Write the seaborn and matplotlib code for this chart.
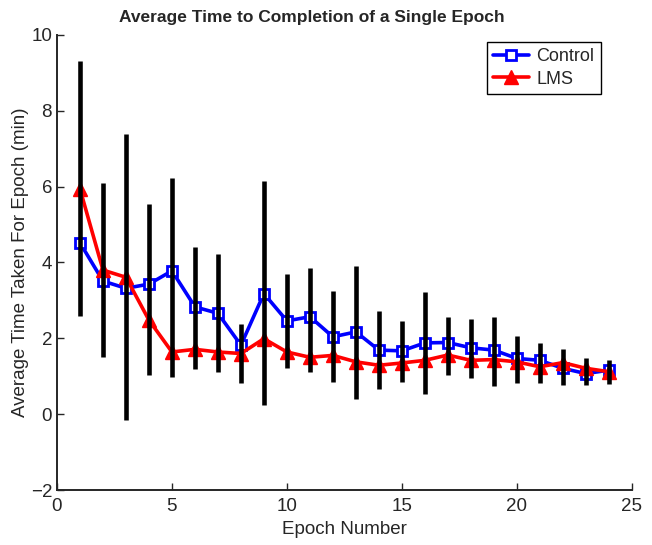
import numpy as np
import pandas as pd
import matplotlib
matplotlib.use("Agg")
import matplotlib.pyplot as plt
import seaborn as sns

# values
epochs = list(range(1, 25))
control = [4.52, 3.51, 3.32, 3.43, 3.78, 2.83, 2.66, 1.82, 3.18, 2.46, 2.57, 2.04,
           2.17, 1.69, 1.67, 1.88, 1.89, 1.75, 1.69, 1.47, 1.42, 1.21, 1.07, 1.16]
lms = [5.94, 3.80, 3.61, 2.48, 1.64, 1.71, 1.64, 1.60, 1.99, 1.64, 1.50, 1.55,
       1.38, 1.29, 1.35, 1.42, 1.56, 1.42, 1.44, 1.38, 1.25, 1.36, 1.21, 1.12]
err_low = [2.59, 1.50, -0.15, 1.03, 0.97, 1.18, 1.12, 0.83, 0.24, 1.21, 1.10, 0.84,
           0.40, 0.66, 0.84, 0.52, 1.03, 0.96, 0.74, 0.81, 0.83, 0.77, 0.77, 0.79]
err_high = [9.32, 6.10, 7.39, 5.54, 6.22, 4.40, 4.22, 2.39, 6.15, 3.69, 3.86, 3.25,
            3.91, 2.72, 2.46, 3.23, 2.57, 2.51, 2.57, 2.06, 1.88, 1.73, 1.47, 1.42]

sns.set_style("ticks")
plt.rcParams['font.family'] = ['Liberation Sans', 'DejaVu Sans']
plt.rcParams['xtick.direction'] = 'in'
plt.rcParams['ytick.direction'] = 'in'

df = pd.DataFrame({'Epoch': epochs, 'Control': control, 'LMS': lms})

fig = plt.figure(figsize=(6.52, 5.45), dpi=100)
ax = fig.add_axes([0.0874, 0.1009, 0.8816, 0.8349])

sns.lineplot(data=df, x='Epoch', y='Control', color='#0000ff', marker='s',
             markersize=7.5, markerfacecolor='white', markeredgecolor='#0000ff',
             markeredgewidth=2.0, linewidth=2.6, label='Control', ax=ax)
sns.lineplot(data=df, x='Epoch', y='LMS', color='#ff0000', marker='^',
             markersize=10, markeredgecolor='#ff0000', markeredgewidth=1.0,
             linewidth=2.6, label='LMS', ax=ax)

# black error bars on top
ax.vlines(epochs, err_low, err_high, colors='black', linewidth=3.3, zorder=5)

ax.set_xlim(0, 25)
ax.set_ylim(-2, 10)
ax.set_xticks(np.arange(0, 26, 5))
ax.set_yticks(np.arange(-2, 11, 2))
ax.tick_params(labelsize=13.5, length=5, width=1)
ax.tick_params(axis='x', pad=6)
for s in ['left', 'bottom']:
    ax.spines[s].set_linewidth(1.4)
sns.despine(ax=ax)

ax.set_xlabel('Epoch Number', fontsize=13.5, labelpad=4)
ax.set_ylabel('Average Time Taken For Epoch (min)', fontsize=13.5, labelpad=1)
ax.set_title('Average Time to Completion of a Single Epoch',
             fontsize=12.5, fontweight='bold', pad=9, x=0.443)

leg = ax.legend(loc='upper right', fontsize=13, frameon=True, fancybox=False,
                framealpha=1, edgecolor='black', handlelength=2.0,
                borderpad=0.35, labelspacing=0.3, handletextpad=0.4,
                borderaxespad=0, bbox_to_anchor=(0.946, 0.985))
leg.get_frame().set_linewidth(1.0)

fig.savefig('out.png', dpi=100)
